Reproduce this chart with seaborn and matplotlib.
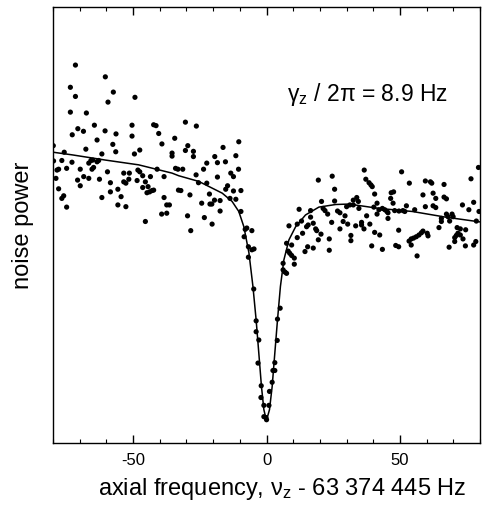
import numpy as np
import pandas as pd
import matplotlib
matplotlib.use("Agg")
import matplotlib.pyplot as plt
from matplotlib.ticker import MultipleLocator
import seaborn as sns

# measured noise power (arbitrary units) vs detuning from 63 374 445 Hz
freq = [
    -71.6, -60.4, -73.5, -71.6, -57.4, -59.4, -49.3, -73.5, -67.5, -70.7,
    -72.8, -68.6, -64.5, -60.5, -56.4, -50.4, -50.4, -42.3, -41.4, -79.9,
    -67.7, -63.5, -57.6, -56.5, -61.7, -49.5, -47.5, -75.8, -79.8, -76.7,
    -78.5, -77.9, -78.9, -77.9, -76.7, -76.0, -74.9, -74.9, -72.9, -70.8,
    -69.8, -69.8, -68.5, -66.6, -66.6, -65.8, -65.1, -65.4, -64.8, -63.5,
    -62.9, -62.6, -61.7, -59.6, -58.5, -58.5, -55.7, -54.5, -55.7, -52.7,
    -53.5, -51.4, -53.5, -52.7, -51.6, -48.2, -47.5, -48.5, -46.4, -45.4,
    -46.4, -44.4, -43.5, -44.8, -43.8, -42.9, -42.3, -45.4,
    -40.4, -30.4, -26.3, -39.2, -34.4, -35.4, -35.4, -29.5, -30.4, -27.4,
    -27.4, -41.0, -34.1, -33.2, -31.4, -16.3, -10.4, -11.5, -19.4, -22.4,
    -18.4, -15.4, -23.6, -10.5,
    -38.4, -26.4, -18.4, -13.4, -12.4, -25.5, -22.4, -14.6, -15.3, -12.4,
    -9.6, -33.0, -32.1, -38.4, -28.7, -21.4, -19.5, -17.4, -13.7, -11.5,
    -24.3, -21.2, -20.5, -37.4, -36.4, -39.3, -37.4, -29.6, -17.4, -9.6,
    -23.3, -20.4, -28.4, -8.0, -7.4, -5.5, -8.4, -6.8, -5.5, -4.7, -6.8,
    -4.8, -3.9, -3.9, -2.9, -3.2, -2.0, -2.1, -1.0, -1.0, -0.2, 0.0, 0.9,
    1.1, 2.1, 2.4, 3.1, 3.1, 4.0, 4.1, 5.1,
    8.4, 11.5, 13.1, 15.0, 15.6, 17.5, 18.4, 18.8, 13.5, 11.5, 20.4, 19.4,
    23.5, 23.5, 15.4, 14.4, 17.5, 7.5, 9.4, 8.1, 8.7, 9.4, 10.4, 10.4, 6.2,
    6.2, 6.9, 7.5, 24.4, 27.5, 28.7, 30.4, 31.6, 31.6, 33.4, 35.6, 35.6,
    36.5, 38.7, 39.4,
    19.4, 24.6, 25.5, 36.6, 37.2, 38.4, 39.1, 39.6, 20.6, 25.5, 12.2, 16.5,
    21.2, 21.9, 22.9, 26.6, 27.5, 29.4, 32.5, 33.8, 34.4, 31.2, 32.5, 30.0,
    34.6, 37.5, 16.5,
    50.6, 53.5, 59.5, 61.4, 61.9, 66.5, 76.6, 79.4, 40.5, 46.7, 47.6, 46.5,
    58.6, 62.4, 63.4, 66.5, 67.4, 77.6, 41.4, 47.4, 52.4, 59.5, 62.4, 63.4,
    73.4, 40.2, 42.1, 43.4, 44.3, 45.1, 45.5, 41.4, 48.0, 49.6, 51.1, 51.8,
    55.5, 45.5, 65.5, 67.4, 68.0, 69.5, 69.9, 75.8, 79.6,
    40.5, 42.4, 49.5, 43.4, 48.4, 49.5, 53.4, 54.2, 55.1, 56.1, 57.1, 58.0,
    58.6, 54.2, 60.2, 60.5, 56.4, 65.5, 68.6, 64.6, 71.4, 72.6, 74.6, 71.7,
    71.1, 70.5, 72.6, 73.6, 70.5, 68.4, 74.5, 77.6, 78.4, 78.6,
]
power = [
    86.7, 84.0, 81.6, 79.5, 80.5, 78.2, 79.3, 75.9, 75.7, 72.1,
    70.7, 71.5, 72.9, 71.6, 70.9, 72.9, 70.4, 73.0, 72.8, 68.2,
    67.4, 69.5, 68.5, 66.8, 66.3, 66.3, 67.2, 66.7, 64.7, 64.8,
    62.6, 62.8, 60.7, 58.3, 56.1, 56.7, 54.1, 63.0, 64.4, 60.3,
    62.8, 59.0, 61.1, 60.7, 64.2, 64.8, 64.9, 62.8, 63.2, 64.5,
    64.8, 60.5, 56.3, 62.2, 59.7, 57.6, 58.2, 56.5, 54.6, 54.2,
    61.9, 61.9, 59.9, 59.6, 60.5, 62.6, 62.2, 60.2, 61.3, 59.9,
    58.6, 58.8, 61.1, 57.4, 57.6, 57.9, 58.0, 50.8,
    71.0, 73.6, 72.7, 68.6, 69.9, 66.5, 65.8, 68.2, 67.1, 66.9,
    65.7, 62.8, 63.0, 62.8, 62.8, 67.8, 69.1, 65.9, 65.7, 64.2,
    64.3, 64.5, 62.8, 62.8,
    61.1, 61.5, 61.0, 61.9, 61.1, 59.7, 59.6, 59.0, 58.2, 57.8,
    57.9, 58.0, 57.9, 56.3, 56.9, 57.1, 55.7, 55.6, 56.1, 55.9,
    55.0, 54.8, 54.8, 54.6, 54.6, 52.5, 52.7, 52.1, 53.2, 53.1,
    51.7, 50.2, 48.7, 49.0, 49.3, 48.7, 47.3, 45.0, 44.3, 44.5, 42.6,
    35.3, 28.0, 25.5, 23.6, 18.3, 13.1, 10.4, 8.6, 6.0, 5.8, 5.3, 8.6,
    11.8, 13.9, 16.6, 16.6, 18.4, 23.5, 28.4, 30.9,
    49.8, 50.2, 50.9, 49.6, 50.0, 50.4, 49.1, 48.7, 48.1, 47.1, 47.9, 46.6,
    46.8, 44.2, 45.0, 43.9, 44.7, 45.8, 45.4, 44.0, 43.5, 43.0, 42.4, 41.0, 41.2,
    39.7, 39.2, 38.9, 50.6, 49.1, 50.8, 50.2, 47.6, 46.4, 49.8, 50.6, 50.0,
    49.1, 50.2, 45.2,
    60.3, 61.2, 58.2, 62.6, 60.5, 59.7, 59.2, 58.8, 55.4, 55.5, 53.6, 53.3,
    53.8, 53.3, 52.5, 53.2, 52.8, 52.1, 55.7, 56.3, 55.4, 54.6, 54.6, 54.2,
    53.8, 52.1, 51.8,
    62.2, 59.6, 60.1, 59.9, 59.6, 59.3, 60.6, 63.2, 57.1, 57.4, 57.6, 56.1,
    56.9, 57.3, 56.1, 56.4, 56.0, 55.2, 55.0, 55.0, 54.4, 54.2, 54.4, 54.0,
    54.6, 54.1, 53.5, 53.8, 53.5, 53.1, 52.8, 52.5, 53.3, 53.2, 53.3, 53.1,
    53.5, 51.5, 51.5, 52.5, 51.9, 52.5, 51.9, 53.5, 53.1,
    48.3, 47.7, 48.8, 44.4, 45.3, 45.0, 46.3, 46.8, 47.0, 47.3, 47.7, 48.2,
    48.6, 45.4, 48.1, 47.5, 42.9, 50.8, 50.9, 49.4, 49.4, 49.1, 48.9, 48.1,
    47.6, 47.1, 47.7, 46.8, 46.2, 44.9, 45.2, 45.4, 46.2, 50.9,
]

# fitted curve
fit_freq = [-80.0, -72.9, -60.4, -47.9, -35.4, -32.9, -25.4, -16.6, -12.9,
            -10.4, -8.5, -6.6, -5.1, -3.9, -2.9, -1.9, -1.0, -0.5, 0.0, 0.5,
            1.1, 2.1, 3.1, 4.1, 5.2, 6.5, 8.4, 10.9, 14.6, 19.6, 25.9, 30.9,
            42.1, 54.6, 67.1, 80.0]
fit_power = [66.7, 66.1, 64.9, 63.8, 61.9, 61.3, 60.0, 57.3, 55.4,
             53.1, 49.6, 43.6, 35.9, 28.2, 20.6, 12.9, 7.6, 6.3, 5.7, 6.3,
             7.6, 12.9, 20.6, 28.2, 35.9, 42.0, 46.6, 49.6, 52.3, 54.1, 54.7, 54.8,
             53.8, 53.1, 51.8, 50.7]

df = pd.DataFrame({"freq": freq, "power": power})
df_fit = pd.DataFrame({"freq": fit_freq, "power": fit_power})

sns.set_style("ticks")
plt.rcParams["font.family"] = ["Liberation Sans", "DejaVu Sans"]
plt.rcParams["mathtext.fontset"] = "custom"
plt.rcParams["mathtext.rm"] = "Liberation Sans"
plt.rcParams["mathtext.it"] = "Liberation Sans"
plt.rcParams["mathtext.default"] = "regular"
plt.rcParams["axes.unicode_minus"] = False
plt.rcParams["text.color"] = "black"
plt.rcParams["axes.labelcolor"] = "black"

fig = plt.figure(figsize=(4.82, 5.09), dpi=100)
ax = fig.add_axes([0.110, 0.130, 0.886, 0.856])

sns.scatterplot(data=df, x="freq", y="power", color="black", s=14,
                edgecolor="none", ax=ax, legend=False)
sns.lineplot(data=df_fit, x="freq", y="power", color="black", lw=1.1,
             sort=False, estimator=None, ax=ax)

ax.set_xlim(-80, 80)
ax.set_ylim(0, 100)
ax.xaxis.set_major_locator(MultipleLocator(50))
ax.xaxis.set_minor_locator(MultipleLocator(10))
ax.tick_params(axis="x", which="both", direction="in", top=True, bottom=True,
               labelsize=12, pad=7, color="black", labelcolor="black")
ax.tick_params(axis="x", which="major", length=6, width=1)
ax.tick_params(axis="x", which="minor", length=3, width=0.8)
ax.tick_params(axis="y", left=False, labelleft=False)
for sp in ax.spines.values():
    sp.set_visible(True)
    sp.set_linewidth(1.0)
    sp.set_color("black")

ax.set_xlabel(r"axial frequency, $\nu_z$ - 63 374 445 Hz", fontsize=17, labelpad=6)
ax.xaxis.label.set_x(0.536)
ax.set_ylabel("noise power", fontsize=17, labelpad=14)
ax.text(0.548, 0.80, r"$\gamma_z$ / 2$\pi$ = 8.9 Hz", transform=ax.transAxes,
        fontsize=16.5, ha="left", va="center")

fig.savefig("out.png", dpi=100)
